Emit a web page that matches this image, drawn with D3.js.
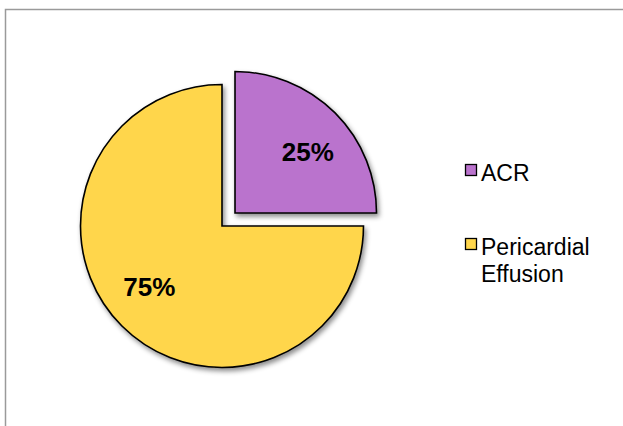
<!DOCTYPE html>
<html>
<head>
<meta charset="utf-8">
<script src="https://cdn.jsdelivr.net/npm/d3@7"></script>
<style>
  html, body { margin: 0; padding: 0; background: #fff; }
  svg { display: block; }
</style>
</head>
<body>
<svg id="chart" width="623" height="426"></svg>
<script>
// Share of findings
const categories = ["ACR", "Pericardial Effusion"];
const values = [25, 75];
const valueLabels = ["25%", "75%"];
const legendLines = [["ACR"], ["Pericardial", "Effusion"]];
const colors = ["#BA73CD", "#FFD64C"];

const svg = d3.select("#chart");

// Chart area frame (continues past the right and bottom edges)
svg.append("rect")
  .attr("x", 5.5).attr("y", 9.5)
  .attr("width", 700).attr("height", 500)
  .attr("fill", "#fff")
  .attr("stroke", "#9a9a9a")
  .attr("stroke-width", 1.5);

const defs = svg.append("defs");
const shadow = defs.append("filter").attr("id", "shadow")
  .attr("x", "-20%").attr("y", "-20%").attr("width", "140%").attr("height", "140%");
shadow.append("feDropShadow")
  .attr("dx", 2).attr("dy", 3)
  .attr("stdDeviation", 2.5)
  .attr("flood-color", "#000")
  .attr("flood-opacity", 0.45);

const cx = 222, cy = 226, radius = 141.5;
const explode = [18.4, 0]; // ACR slice is pulled out

const pie = d3.pie().sort(null).value(d => d)
  .startAngle(0).endAngle(2 * Math.PI);
const arcs = pie(values);
const arc = d3.arc().innerRadius(0).outerRadius(radius);

// Value labels sit a little clockwise of each slice's bisector
const labelRadius = 95, labelTurn = 5 * Math.PI / 180;
function labelPos(d) {
  const a = (d.startAngle + d.endAngle) / 2 + labelTurn;
  return [labelRadius * Math.sin(a), -labelRadius * Math.cos(a)];
}

function offset(d, i) {
  const mid = (d.startAngle + d.endAngle) / 2;
  const r = explode[i];
  return [r * Math.sin(mid), -r * Math.cos(mid)];
}

const g = svg.append("g").attr("transform", `translate(${cx},${cy})`);

const slices = g.selectAll("g.slice")
  .data(arcs)
  .join("g")
  .attr("class", "slice")
  .attr("transform", (d, i) => { const o = offset(d, i); return `translate(${o[0]},${o[1]})`; });

slices.append("path")
  .attr("d", arc)
  .attr("fill", (d, i) => colors[i])
  .attr("stroke", "#000")
  .attr("stroke-width", 1.6)
  .attr("stroke-linejoin", "miter")
  .attr("filter", "url(#shadow)");

slices.append("text")
  .attr("transform", d => { const c = labelPos(d); return `translate(${c[0]},${c[1] + 9})`; })
  .attr("text-anchor", "middle")
  .attr("font-family", "Liberation Sans, Arial, sans-serif")
  .attr("font-weight", "bold")
  .attr("font-size", 26)
  .attr("fill", "#000")
  .text((d, i) => valueLabels[i]);

// Legend
const legendX = 465, legendY = [164, 238], lineH = 26.5;
const legend = svg.append("g").selectAll("g")
  .data(categories)
  .join("g")
  .attr("transform", (d, i) => `translate(${legendX},${legendY[i]})`);

legend.append("rect")
  .attr("x", 0.5).attr("y", 0.5)
  .attr("width", 11).attr("height", 11)
  .attr("fill", (d, i) => colors[i])
  .attr("stroke", "#000")
  .attr("stroke-width", 1.3);

legend.append("text")
  .attr("x", 16).attr("y", 17)
  .attr("font-family", "Liberation Sans, Arial, sans-serif")
  .attr("font-size", 23)
  .attr("fill", "#000")
  .selectAll("tspan")
  .data((d, i) => legendLines[i])
  .join("tspan")
  .attr("x", 16)
  .attr("dy", (d, j) => j === 0 ? 0 : lineH)
  .text(d => d);
</script>
</body>
</html>
